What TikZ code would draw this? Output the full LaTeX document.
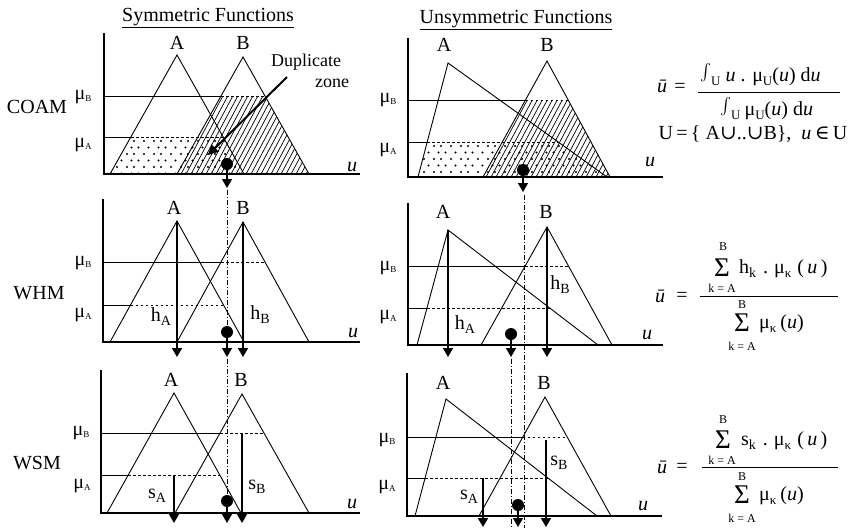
\documentclass[tikz,border=0pt]{standalone}
\usepackage{fontspec}
\setmainfont{Liberation Serif}
\newfontfamily\dvs{DejaVu Serif}
\usetikzlibrary{arrows.meta}
\tikzset{
  axisln/.style={line width=2.3pt},
  thinln/.style={line width=0.9pt},
  dotln/.style={line width=1pt, dash pattern=on 2.5pt off 2.5pt},
  ddln/.style={line width=0.8pt, dash pattern=on 5pt off 2pt on 1pt off 2pt},
  harr/.style={line width=1.7pt, -{Triangle[width=10pt,length=9pt]}},
  darr/.style={line width=1.4pt, -{Triangle[width=10pt,length=9pt]}},
  lbl/.style={font=\fontsize{20}{24}\selectfont, inner sep=0pt},
  fm/.style={font=\fontsize{20}{24}\selectfont, inner sep=0pt},
  sm/.style={font=\fontsize{12}{14}\selectfont, inner sep=0pt},
  sig/.style={font=\fontsize{27}{28}\selectfont, inner sep=0pt},
  hatchln/.style={line width=0.7pt},
}
\newcommand\musub[1]{μ\raisebox{-2pt}{\fontsize{9}{9}\selectfont #1}}
\newcommand\hsub[2]{#1\raisebox{-4pt}{\fontsize{14}{14}\selectfont #2}}
\newcommand\fsub[1]{\raisebox{-4pt}{\fontsize{13}{13}\selectfont #1}}
\newcommand\bigint{\scalebox{1.65}{$\int$}}
\begin{document}
\begin{tikzpicture}[x=1pt,y=-1pt]
\useasboundingbox (0,0) rectangle (857,528);
% ---------------- titles and row labels
\node[lbl] (t1) at (208,18) {\underline{Symmetric Functions}};
\node[lbl] (t2) at (516,20) {\underline{Unsymmetric Functions}};
\node[lbl] (r1) at (37,107) {COAM};
\node[lbl] (r2) at (39,293) {WHM};
\node[lbl] (r3) at (37,463) {WSM};
% ================= Panel 1: COAM symmetric
\begin{scope}
\clip (110,174)--(131,137)--(223,137)--(244,174)--cycle;
\foreach \r in {0,...,5}{\foreach \c in {0,...,16}{\fill ({107+\c*9+mod(\r,2)*4.5+mod(\c*7,3)},{141+\r*6.5}) circle (1.1pt);}}
\end{scope}
\begin{scope}
\clip (177,174)--(221,96)--(265,96)--(309,174)--cycle;
\foreach \i in {0,...,32}{\draw[hatchln] ({165+\i*5},176) -- ++(46,-86);}
\end{scope}
\draw[thinln] (110,174)--(177,55)--(244,174);
\draw[thinln] (177,174)--(243,57)--(309,174);
\draw[thinln] (104,96)--(221,96); \draw[dotln] (221,96)--(265,96);
\draw[thinln] (104,137)--(131,137); \draw[dotln] (131,137)--(223,137);
\draw[axisln] (104,33)--(104,174)--(360,174);
\node[lbl] (a1) at (177,43) {A};
\node[lbl] (b1) at (243,43) {B};
\node[lbl] (mb1) at (83,97) {\musub{B}};
\node[lbl] (ma1) at (83,145) {\musub{A}};
\node[lbl] (u1) at (352,167) {\textit{u}};
\node[font=\fontsize{18}{20}\selectfont, inner sep=0pt] (dz1) at (306,62) {Duplicate};
\node[font=\fontsize{18}{20}\selectfont, inner sep=0pt] (dz2) at (332,83) {zone};
\coordinate (dzs) at (287,77);
\coordinate (dze) at (208,155);
\draw[line width=2pt, -{Triangle[width=10pt,length=10pt]}] (dzs)--(dze);
\fill (227,164) circle (6pt);
\coordinate (c1) at (227,164); \coordinate (c1e) at (227,188);
\draw[darr] (c1)--(c1e);
% ================= Panel 2: COAM unsymmetric
\begin{scope}
\clip (418,177)--(427.2,142)--(558,142)--(607,177)--cycle;
\foreach \r in {0,...,5}{\foreach \c in {0,...,22}{\fill ({414+\c*9+mod(\r,2)*4.5+mod(\c*7,3)},{146+\r*6.5}) circle (1.1pt);}}
\end{scope}
\begin{scope}
\clip (483,177)--(525.5,100)--(568,100)--(610,177)--cycle;
\foreach \i in {0,...,32}{\draw[hatchln] ({470+\i*5},179) -- ++(46,-86);}
\end{scope}
\draw[thinln] (418,177)--(448,63)--(607,177);
\draw[thinln] (483,177)--(547,61)--(610,177);
\draw[thinln] (408,100)--(525.5,100); \draw[dotln] (525.5,100)--(568,100);
\draw[thinln] (408,142)--(427.2,142); \draw[dotln] (427.2,142)--(558,142);
\draw[axisln] (408,38)--(408,177)--(663,177);
\node[lbl] (a2) at (444,45) {A};
\node[lbl] (b2) at (547,45) {B};
\node[lbl] (mb2) at (388,100) {\musub{B}};
\node[lbl] (ma2) at (388,150) {\musub{A}};
\node[lbl] (u2) at (650,162) {\textit{u}};
\fill (523,170) circle (6pt);
\coordinate (c2) at (523,170); \coordinate (c2e) at (523,192);
\draw[darr] (c2)--(c2e);
% ---- formula 1
\node[fm] (f1u) at (662,86) {\textit{\=u}};
\node[fm] (f1e) at (680,88) {=};
\node[fm, anchor=base west] (f1n) at (700,81) {\bigint\fsub{U}\hspace{5pt}\textit{u} . μ\fsub{U}(\textit{u}) d\textit{u}};
\draw[line width=0.9pt] (698,92)--(840,92);
\node[fm, anchor=base west] (f1d) at (720,115) {\bigint\fsub{U}\hspace{4pt}μ\fsub{U}(\textit{u}) d\textit{u}};
\node[fm, anchor=base] (f1s) at (753,139) {U\,=\,\{ A{\dvs ∪}..{\dvs ∪}B\}, \ \textit{u}\,{\dvs ∈}\,U};
% ================= Panel 3: WHM symmetric
\draw[thinln] (110,342)--(177,221)--(244,342);
\draw[thinln] (177,342)--(243,222)--(309,342);
\draw[thinln] (103,262)--(221,262); \draw[dotln] (221,262)--(265,262);
\draw[thinln] (103,305)--(130.5,305); \draw[dotln] (130.5,305)--(223.5,305);
\draw[axisln] (103,199)--(103,342)--(360,342);
\coordinate (ha3) at (177,221); \coordinate (ha3e) at (177,357);
\coordinate (hb3) at (243,222); \coordinate (hb3e) at (243,357);
\draw[harr] (ha3)--(ha3e);
\draw[harr] (hb3)--(hb3e);
\node[lbl] (a3) at (174,208) {A};
\node[lbl] (b3) at (243,208) {B};
\node[lbl] (mb3) at (83,263) {\musub{B}};
\node[lbl] (ma3) at (83,315) {\musub{A}};
\node[lbl] (hA3) at (161,317) {\hsub{h}{A}};
\node[lbl] (hB3) at (260,315) {\hsub{h}{B}};
\node[lbl] (u3) at (353,333) {\textit{u}};
\draw[ddln] (227,190)--(227,326);
\fill (227,332) circle (6pt);
\coordinate (c3) at (227,332); \coordinate (c3e) at (227,357);
\draw[darr] (c3)--(c3e);
% ================= Panel 4: WHM unsymmetric
\draw[thinln] (417,345)--(448,230)--(598,345);
\draw[thinln] (481,345)--(547,227)--(612,345);
\draw[thinln] (408,266)--(525,266); \draw[dotln] (525,266)--(568.5,266);
\draw[thinln] (408,308)--(427,308); \draw[dotln] (427,308)--(549.7,308);
\draw[axisln] (408,203)--(408,345)--(663,345);
\coordinate (ha4) at (448,230); \coordinate (ha4e) at (448,357);
\coordinate (hb4) at (547,227); \coordinate (hb4e) at (547,357);
\draw[harr] (ha4)--(ha4e);
\draw[harr] (hb4)--(hb4e);
\node[lbl] (a4) at (443,212) {A};
\node[lbl] (b4) at (546,212) {B};
\node[lbl] (mb4) at (388,268) {\musub{B}};
\node[lbl] (ma4) at (388,317) {\musub{A}};
\node[lbl] (hA4) at (465,325) {\hsub{h}{A}};
\node[lbl] (hB4) at (560,285) {\hsub{h}{B}};
\node[lbl] (u4) at (647,335) {\textit{u}};
\draw[ddln] (524,195)--(524,528);
\fill (511,334) circle (6pt);
\coordinate (c4) at (511,334); \coordinate (c4e) at (511,357);
\draw[darr] (c4)--(c4e);
\draw[ddln] (511,359)--(511,528);
% ---- formula 2
\node[fm] (f2u) at (660,296) {\textit{\=u}};
\node[fm] (f2e) at (682,297) {=};
\node[sm] (f2nb) at (723,247) {B};
\node[sig] (f2ns) at (722,268) {Σ};
\node[sm] (f2nk) at (722,288) {k = A};
\node[fm, anchor=west] (f2nt) at (739,269) {\hsub{h}{k}\hspace{7pt}.\hspace{6pt}μ\fsub{κ}\hspace{6pt}(\,\textit{u}\,)};
\draw[line width=0.9pt] (700,296)--(838,296);
\node[sm] (f2db) at (742,305) {B};
\node[sig] (f2ds) at (742,323) {Σ};
\node[sm] (f2dk) at (742,346) {k = A};
\node[fm, anchor=west] (f2dt) at (759,324) {μ\fsub{κ}\hspace{4pt}(\textit{u})};
% ================= Panel 5: WSM symmetric
\draw[thinln] (107,513)--(174,393)--(241,513);
\draw[thinln] (175,513)--(242,394)--(309,513);
\draw[thinln] (101,433)--(220,433); \draw[dotln] (220,433)--(264,433);
\draw[thinln] (101,475)--(128,475); \draw[dotln] (128,475)--(220,475);
\draw[axisln] (101,370)--(101,513)--(360,513);
\coordinate (sa5) at (174,475); \coordinate (sa5e) at (174,523);
\coordinate (sb5) at (242,433); \coordinate (sb5e) at (242,523);
\draw[harr] (sa5)--(sa5e);
\draw[harr] (sb5)--(sb5e);
\node[lbl] (a5) at (171,380) {A};
\node[lbl] (b5) at (241,380) {B};
\node[lbl] (mb5) at (81,433) {\musub{B}};
\node[lbl] (ma5) at (82,486) {\musub{A}};
\node[lbl] (sA5) at (157,496) {\hsub{s}{A}};
\node[lbl] (sB5) at (257,487) {\hsub{s}{B}};
\node[lbl] (u5) at (352,504) {\textit{u}};
\draw[ddln] (227,359)--(227,495);
\fill (227,501) circle (6pt);
\coordinate (c5) at (227,501); \coordinate (c5e) at (227,523);
\draw[darr] (c5)--(c5e);
% ================= Panel 6: WSM unsymmetric
\draw[thinln] (415,516)--(446,399)--(597,516);
\draw[thinln] (479,516)--(545,397)--(611,516);
\draw[thinln] (407,437)--(522.8,437); \draw[dotln] (522.8,437)--(567,437);
\draw[thinln] (407,478)--(425,478); \draw[dotln] (425,478)--(548,478);
\draw[axisln] (407,373)--(407,516)--(662,516);
\coordinate (sa6) at (483,478); \coordinate (sa6e) at (483,527);
\coordinate (sb6) at (546,440); \coordinate (sb6e) at (546,527);
\draw[harr] (sa6)--(sa6e);
\draw[harr] (sb6)--(sb6e);
\node[lbl] (a6) at (443,383) {A};
\node[lbl] (b6) at (544,383) {B};
\node[lbl] (mb6) at (387,440) {\musub{B}};
\node[lbl] (ma6) at (387,487) {\musub{A}};
\node[lbl] (sA6) at (469,497) {\hsub{s}{A}};
\node[lbl] (sB6) at (559,463) {\hsub{s}{B}};
\node[lbl] (u6) at (643,506) {\textit{u}};
\fill (518,505) circle (6pt);
\coordinate (c6) at (518,505); \coordinate (c6e) at (518,527);
\draw[darr] (c6)--(c6e);
% ---- formula 3
\node[fm] (f3u) at (662,467) {\textit{\=u}};
\node[fm] (f3e) at (682,468) {=};
\node[sm] (f3nb) at (723,420) {B};
\node[sig] (f3ns) at (723,440) {Σ};
\node[sm] (f3nk) at (722,460) {k = A};
\node[fm, anchor=west] (f3nt) at (741,441) {\hsub{s}{k}\hspace{7pt}.\hspace{6pt}μ\fsub{κ}\hspace{6pt}(\,\textit{u}\,)};
\draw[line width=0.9pt] (702,467)--(838,467);
\node[sm] (f3db) at (742,477) {B};
\node[sig] (f3ds) at (742,495) {Σ};
\node[sm] (f3dk) at (742,518) {k = A};
\node[fm, anchor=west] (f3dt) at (759,496) {μ\fsub{κ}\hspace{4pt}(\textit{u})};
\end{tikzpicture}
\end{document}
